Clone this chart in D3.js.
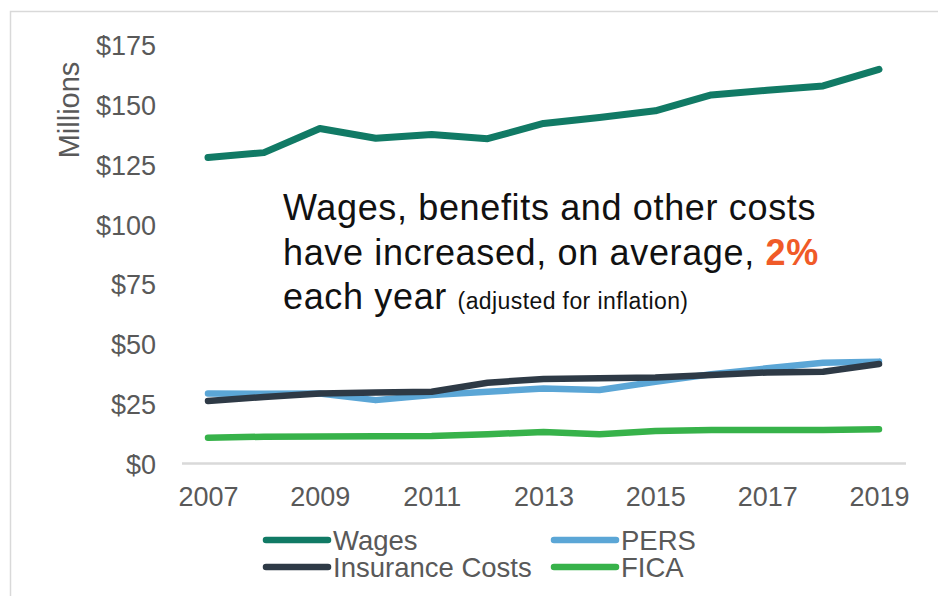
<!DOCTYPE html>
<html>
<head>
<meta charset="utf-8">
<script src="https://cdn.jsdelivr.net/npm/d3@7"></script>
<style>
  html, body { margin: 0; padding: 0; background: #fff; }
  svg { display: block; font-family: "Liberation Sans", Arial, sans-serif; }
</style>
</head>
<body>
<svg id="chart" width="938" height="596"></svg>
<script>
// Annual cost components, millions of dollars (inflation-adjusted)
const years = [2007, 2008, 2009, 2010, 2011, 2012, 2013, 2014, 2015, 2016, 2017, 2018, 2019];
const wages     = [128.0, 130.0, 140.1, 136.0, 137.6, 135.8, 142.2, 144.7, 147.5, 154.1, 156.1, 157.9, 164.8];
const pers      = [29.3, 29.2, 29.3, 26.5, 28.6, 30.0, 31.4, 30.7, 34.2, 37.3, 39.8, 42.1, 42.6];
const insurance = [26.1, 27.8, 29.3, 29.7, 30.0, 33.8, 35.3, 35.6, 36.0, 37.0, 38.1, 38.4, 41.6];
const fica      = [10.8, 11.2, 11.3, 11.4, 11.5, 12.2, 13.2, 12.2, 13.6, 14.0, 14.0, 14.0, 14.3];
const yTicks = [0, 25, 50, 75, 100, 125, 150, 175];
const xTicks = [2007, 2009, 2011, 2013, 2015, 2017, 2019];

const series = [
  { name: "PERS", values: pers, color: "#5ba6d6", width: 6.5 },
  { name: "FICA", values: fica, color: "#37b24a", width: 6.5 },
  { name: "Insurance Costs", values: insurance, color: "#2e3a46", width: 6.5 },
  { name: "Wages", values: wages, color: "#117a65", width: 7 }
];

const svg = d3.select("#chart");
const textGray = "#595959";

// outer frame
svg.append("rect")
  .attr("x", 10.5).attr("y", 11.5)
  .attr("width", 960).attr("height", 620)
  .attr("fill", "none").attr("stroke", "#d9d9d9").attr("stroke-width", 1.5);

const x = d3.scaleLinear().domain([2007, 2019]).range([208, 879]);
const y = d3.scaleLinear().domain([0, 175]).range([463.5, 45]);

// y axis labels (no axis line)
const yAxis = d3.axisLeft(y).tickValues(yTicks).tickSize(0).tickPadding(0)
  .tickFormat(d => "$" + d);
const gy = svg.append("g").attr("transform", "translate(156,0)").call(yAxis);
gy.select(".domain").remove();
gy.selectAll("text")
  .attr("fill", textGray).attr("font-size", 27)
  .attr("font-family", "Liberation Sans, Arial, sans-serif")
  .attr("dy", "0.36em");

// baseline
svg.append("line")
  .attr("x1", 182).attr("x2", 906)
  .attr("y1", y(0)).attr("y2", y(0))
  .attr("stroke", "#d9d9d9").attr("stroke-width", 2.5);

// x axis labels
const xAxis = d3.axisBottom(x).tickValues(xTicks).tickSize(0).tickPadding(0)
  .tickFormat(d3.format("d"));
const gx = svg.append("g").attr("transform", "translate(0,506)").call(xAxis);
gx.select(".domain").remove();
gx.selectAll("text")
  .attr("fill", textGray).attr("font-size", 27)
  .attr("font-family", "Liberation Sans, Arial, sans-serif")
  .attr("dy", 0);

// axis title
svg.append("text")
  .attr("transform", "translate(79,110) rotate(-90)")
  .attr("text-anchor", "middle")
  .attr("fill", textGray).attr("font-size", 29)
  .text("Millions");

// lines
const line = d3.line()
  .x((d, i) => x(years[i]))
  .y(d => y(d));

svg.append("g").selectAll("path")
  .data(series)
  .join("path")
  .attr("d", s => line(s.values))
  .attr("fill", "none")
  .attr("stroke", s => s.color)
  .attr("stroke-width", s => s.width)
  .attr("stroke-linecap", "round")
  .attr("stroke-linejoin", "round");

// annotation
const note = svg.append("text").attr("fill", "#111").attr("font-size", 36)
  .attr("letter-spacing", 0.65);
note.append("tspan").attr("x", 283).attr("y", 220).text("Wages, benefits and other costs");
note.append("tspan").attr("x", 283).attr("y", 265).text("have increased, on average, ");
note.append("tspan").attr("fill", "#f05a28").attr("font-weight", "bold").text("2%");
note.append("tspan").attr("x", 283).attr("y", 309).text("each year ");
note.append("tspan").attr("font-size", 23).attr("letter-spacing", 0.4)
  .text("(adjusted  for inflation)");

// legend
const legendItems = [
  { name: "Wages", color: "#117a65", lx: 266, ly: 540 },
  { name: "PERS", color: "#5ba6d6", lx: 554, ly: 540 },
  { name: "Insurance Costs", color: "#2e3a46", lx: 266, ly: 567 },
  { name: "FICA", color: "#37b24a", lx: 554, ly: 567 }
];
const lg = svg.append("g").selectAll("g").data(legendItems).join("g")
  .attr("transform", d => `translate(${d.lx},${d.ly})`);
lg.append("line")
  .attr("x1", 0).attr("x2", 62).attr("y1", 0).attr("y2", 0)
  .attr("stroke", d => d.color).attr("stroke-width", 6.5)
  .attr("stroke-linecap", "round");
lg.append("text")
  .attr("x", 67).attr("y", 0).attr("dy", "0.36em")
  .attr("fill", textGray).attr("font-size", 27.5)
  .text(d => d.name);
</script>
</body>
</html>
